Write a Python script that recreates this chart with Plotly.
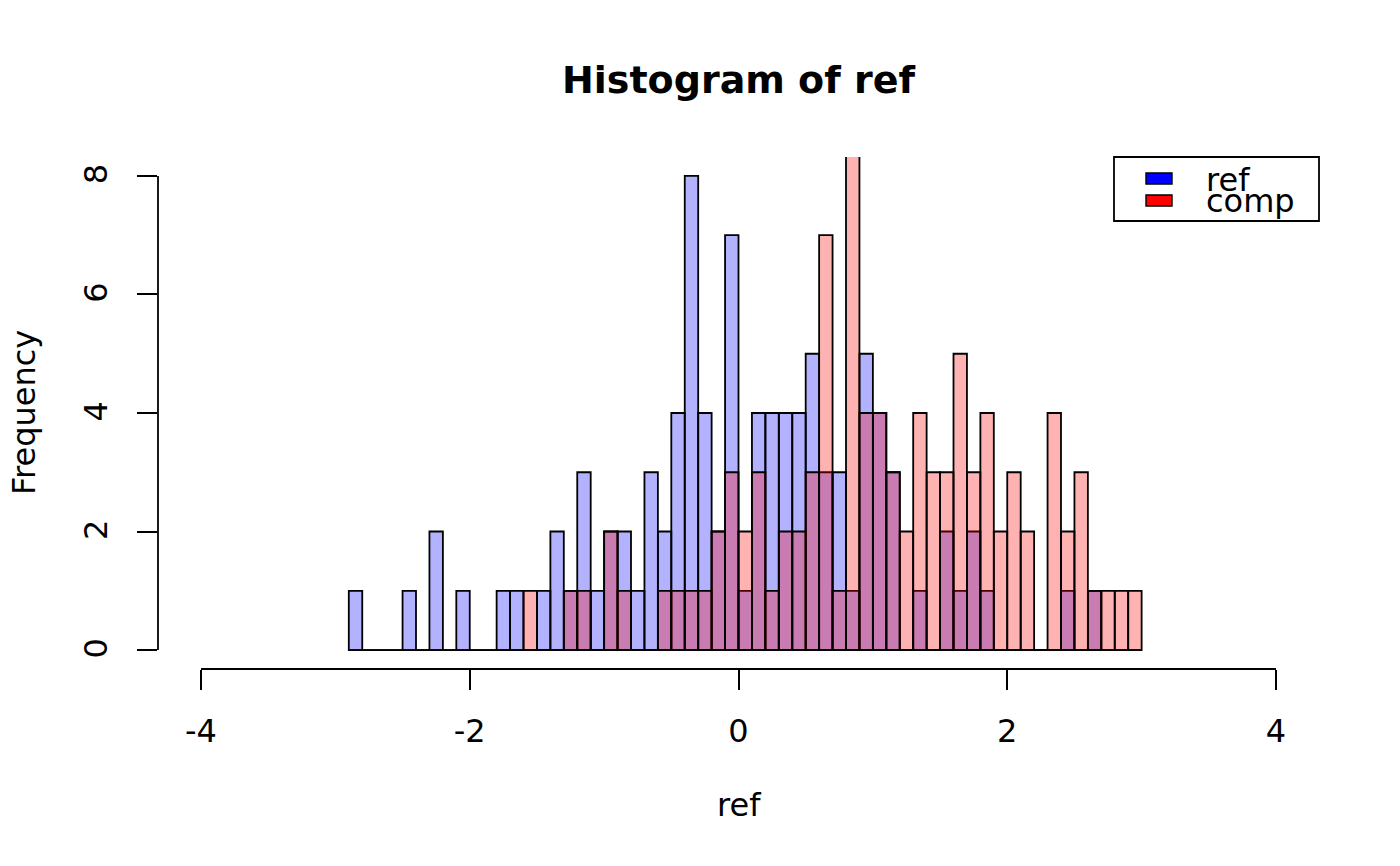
import numpy as np
import plotly.graph_objects as go

# ---- data (bin width 0.1) ----
bin_width = 0.1
ref_start = -2.9
ref_counts = [1, 0, 0, 0, 1, 0, 2, 0, 1, 0, 0, 1, 1, 0, 1, 2, 1, 3, 1, 2,
              2, 1, 3, 2, 4, 8, 4, 2, 7, 1, 4, 4, 4, 4, 5, 3, 3, 1, 5, 4,
              3, 0, 1, 0, 2, 1, 2, 1, 0, 0, 0, 0, 0, 1, 0, 1]
comp_start = -1.6
comp_counts = [1, 0, 0, 1, 1, 0, 2, 1, 0, 0, 1, 1, 1, 1, 2, 3, 2, 3, 1, 2,
               2, 3, 7, 1, 9, 4, 4, 3, 2, 4, 3, 3, 5, 3, 4, 2, 3, 2, 0, 4,
               2, 3, 1, 1, 1, 1]
x_ticks = [-4, -2, 0, 2, 4]
y_ticks = [0, 2, 4, 6, 8]
series_names = ["ref", "comp"]
series_fill = ["rgba(0,0,255,0.3)", "rgba(255,0,0,0.3)"]
legend_fill = ["#0000FF", "#FF0000"]

FONT = "DejaVu Sans"
FS = 32          # axis / legend text size
LW = 1.8         # line width

# page body has an 8px margin; plot area in page pixels: x 158..1319, y 157..669
OFF = 8
PL, PR, PT, PB = 158, 1319, 157, 669
PW, PH = PR - PL, PB - PT


def px(x):
    return (x - PL) / PW


def py(y):
    return (PB - y) / PH


def centers(start, counts):
    return np.round(start + bin_width * (np.arange(len(counts)) + 0.5), 4)


fig = go.Figure()
for start, counts, name, fill in [(ref_start, ref_counts, series_names[0], series_fill[0]),
                                  (comp_start, comp_counts, series_names[1], series_fill[1])]:
    end = start + bin_width * len(counts)
    # baseline for zero-count bins (R draws them as flat rectangles)
    fig.add_trace(go.Scatter(x=[start, end], y=[0, 0], mode="lines",
                             line=dict(color="black", width=LW),
                             showlegend=False, hoverinfo="skip"))
    fig.add_trace(go.Bar(x=centers(start, counts), y=counts, width=bin_width,
                         name=name, marker=dict(color=fill,
                                                line=dict(color="black", width=LW)),
                         showlegend=False))

fig.update_layout(
    width=1400, height=866,
    barmode="overlay",
    plot_bgcolor="white", paper_bgcolor="white",
    margin=dict(l=PL - OFF, r=1400 - PR + OFF, t=PT - OFF, b=866 - PB + OFF, autoexpand=False),
    font=dict(family=FONT, size=FS, color="black"),
    title=dict(text="<b>Histogram of ref</b>", x=0.5, xref="paper",
               y=1 - (80 - OFF) / 866, yref="container", yanchor="middle",
               xanchor="center", font=dict(size=38, family=FONT)),
    xaxis=dict(range=[-4.32, 4.32], tickvals=x_ticks, ticktext=[str(v) for v in x_ticks],
               ticks="outside", ticklen=20, tickwidth=LW, tickcolor="black",
               showgrid=False, zeroline=False, showline=False,
               ticklabelstandoff=14, tickfont=dict(size=FS)),
    yaxis=dict(range=[-0.32, 8.32], tickvals=y_ticks, ticktext=[str(v) for v in y_ticks],
               ticks="outside", ticklen=20, tickwidth=LW, tickcolor="black",
               showgrid=False, zeroline=False, showline=False, tickangle=-90,
               ticklabelstandoff=17, ticklabelshift=3, tickfont=dict(size=FS)),
    showlegend=False,
)

# axis lines spanning the tick range, as in base R
fig.add_shape(type="line", xref="x", yref="paper", x0=x_ticks[0], x1=x_ticks[-1],
              y0=0, y1=0, line=dict(color="black", width=LW))
fig.add_shape(type="line", xref="paper", yref="y", x0=0, x1=0,
              y0=y_ticks[0], y1=y_ticks[-1], line=dict(color="black", width=LW))

# axis titles
fig.add_annotation(text="ref", xref="paper", yref="paper", x=0.5, y=py(805),
                   showarrow=False, xanchor="center", yanchor="middle",
                   font=dict(size=FS, family=FONT))
fig.add_annotation(text="Frequency", xref="paper", yref="y", x=px(24), y=4,
                   showarrow=False, textangle=-90, xanchor="center", yanchor="middle",
                   font=dict(size=FS, family=FONT))

# legend box (drawn like R's legend())
fig.add_shape(type="rect", xref="paper", yref="paper", x0=px(1114), x1=1.0,
              y0=py(221), y1=py(157),
              line=dict(color="black", width=LW), fillcolor="white")
sw_y = [(173, 184), (195, 206)]
txt_y = [180, 201]
for i, name in enumerate(series_names):
    fig.add_shape(type="rect", xref="paper", yref="paper",
                  x0=px(1146), x1=px(1172),
                  y0=py(sw_y[i][1]), y1=py(sw_y[i][0]),
                  line=dict(color="black", width=1.4), fillcolor=legend_fill[i])
    fig.add_annotation(text=name, xref="paper", yref="paper",
                       x=px(1204), y=py(txt_y[i]),
                       showarrow=False, xanchor="left", yanchor="middle",
                       font=dict(size=FS, family=FONT))

fig.write_html("out.html")
